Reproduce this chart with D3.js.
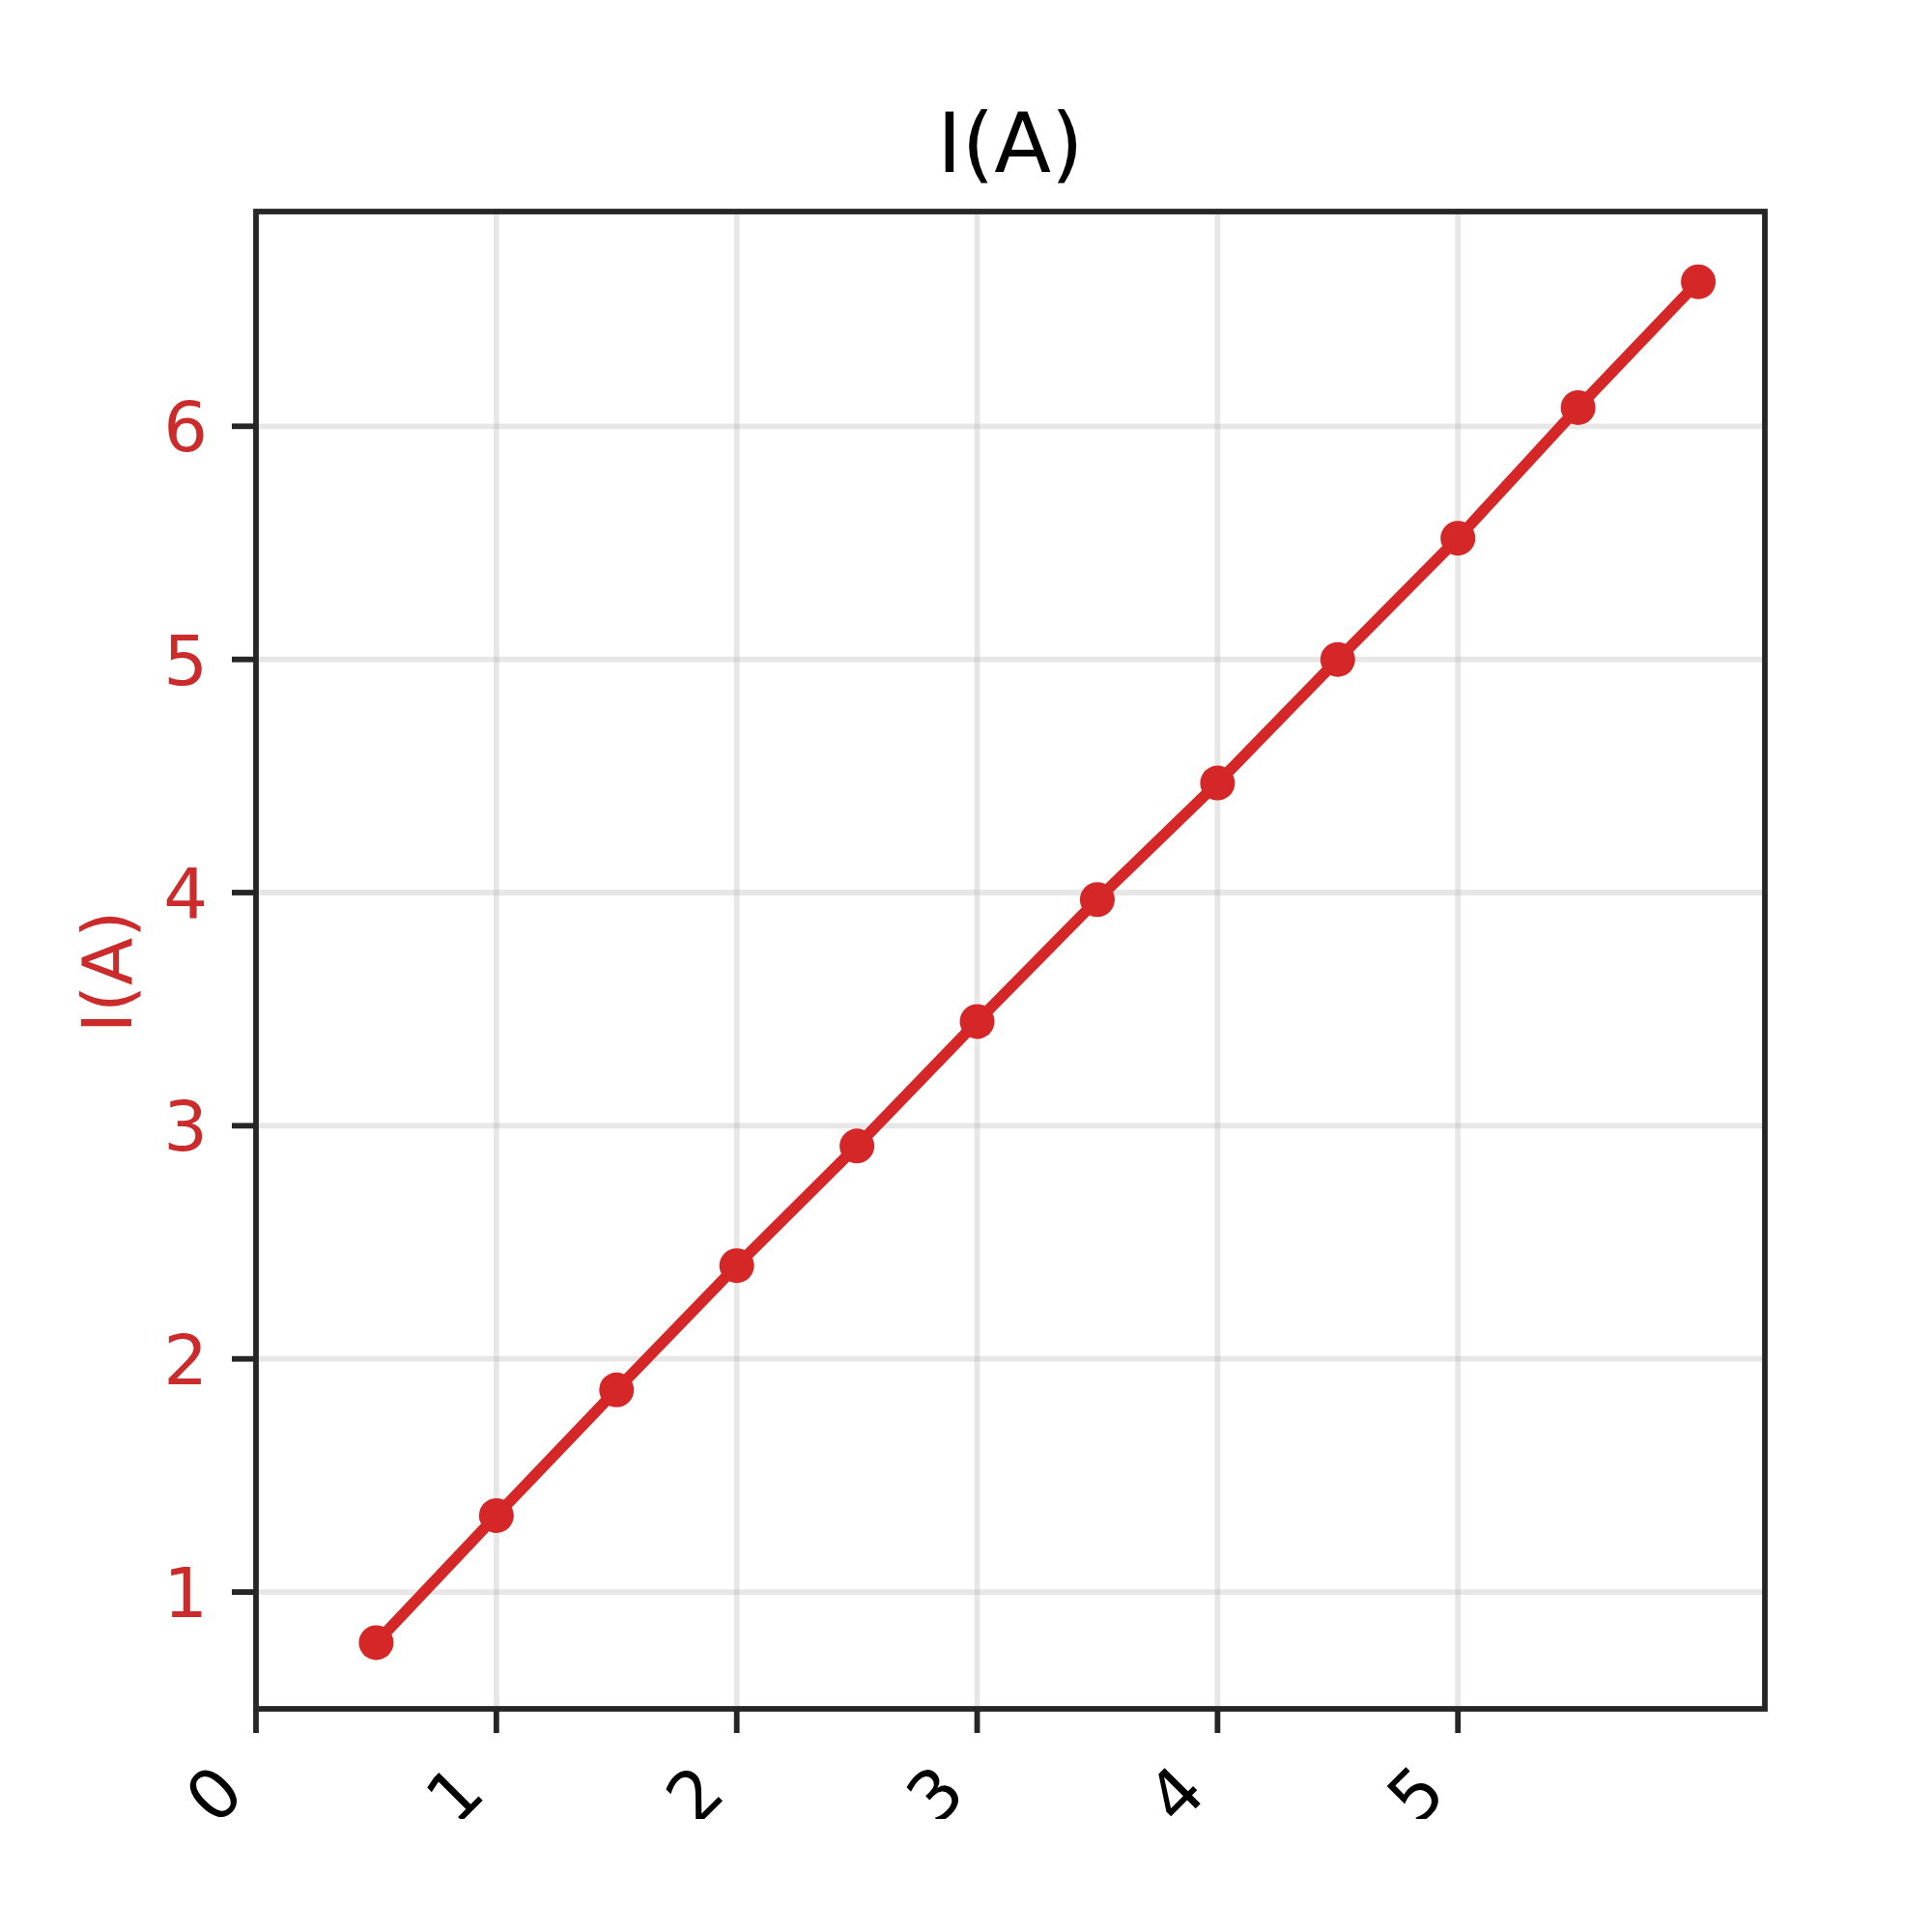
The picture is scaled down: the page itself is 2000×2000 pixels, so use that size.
<!DOCTYPE html>
<html>
<head>
<meta charset="utf-8">
<script src="https://cdn.jsdelivr.net/npm/d3@7"></script>
<style>
  html, body { margin: 0; padding: 0; background: #ffffff; }
  svg { display: block; }
  text { font-family: "DejaVu Sans", sans-serif; }
</style>
</head>
<body>
<script>
// ---- data ----
const xValues = [0.5, 1.0, 1.5, 2.0, 2.5, 3.0, 3.5, 4.0, 4.5, 5.0, 5.5, 6.0];
const currentValues = [0.783, 1.328, 1.867, 2.40, 2.913, 3.447, 3.97, 4.47, 5.0, 5.52, 6.08, 6.62];
const xTicks = [0, 1, 2, 3, 4, 5];
const yTicks = [1, 2, 3, 4, 5, 6];
const titleText = "I(A)";
const yLabelText = "I(A)";

(function () {
// ---- layout ----
const W = 2000, H = 2000;
const pL = 265, pR = 1827, pT = 219, pB = 1769;
const red = "#d62728";
const labelRed = "#cc2b2c";
const dark = "#262626";

const svg = d3.select("body").append("svg")
  .attr("width", W).attr("height", H);

svg.append("rect").attr("width", W).attr("height", H).attr("fill", "#ffffff");

const x = d3.scaleLinear().domain([0, 6.277]).range([pL, pR]);
const y = d3.scaleLinear().domain([0.499, 6.921]).range([pB, pT]);

// grid
const grid = svg.append("g");
grid.selectAll("line.gx").data(xTicks).enter().append("line")
  .attr("x1", d => x(d)).attr("x2", d => x(d))
  .attr("y1", pT).attr("y2", pB)
  .attr("stroke", "#b0b0b0").attr("stroke-opacity", 0.3).attr("stroke-width", 5.8);
grid.selectAll("line.gy").data(yTicks).enter().append("line")
  .attr("y1", d => y(d)).attr("y2", d => y(d))
  .attr("x1", pL).attr("x2", pR)
  .attr("stroke", "#b0b0b0").attr("stroke-opacity", 0.3).attr("stroke-width", 5.8);

// line + markers
const pts = xValues.map((v, i) => [v, currentValues[i]]);
svg.append("path")
  .datum(pts)
  .attr("fill", "none")
  .attr("stroke", red)
  .attr("stroke-width", 11.5)
  .attr("stroke-linejoin", "round")
  .attr("stroke-linecap", "butt")
  .attr("d", d3.line().x(d => x(d[0])).y(d => y(d[1])));

svg.selectAll("circle.pt").data(pts).enter().append("circle")
  .attr("cx", d => x(d[0])).attr("cy", d => y(d[1]))
  .attr("r", 18).attr("fill", red);

// spines
svg.append("rect")
  .attr("x", pL).attr("y", pT)
  .attr("width", pR - pL).attr("height", pB - pT)
  .attr("fill", "none").attr("stroke", dark).attr("stroke-width", 5.8);

// y axis ticks
const yAxisG = svg.append("g");
yAxisG.selectAll("line").data(yTicks).enter().append("line")
  .attr("x1", pL - 25).attr("x2", pL)
  .attr("y1", d => y(d)).attr("y2", d => y(d))
  .attr("stroke", dark).attr("stroke-width", 5.8);
yAxisG.selectAll("text").data(yTicks).enter().append("text")
  .attr("x", pL - 50).attr("y", d => y(d))
  .attr("dy", "0.36em")
  .attr("text-anchor", "end")
  .attr("font-size", 72)
  .attr("fill", labelRed)
  .text(d => d3.format("d")(d));

// x axis ticks
const xAxisG = svg.append("g");
xAxisG.selectAll("line").data(xTicks).enter().append("line")
  .attr("x1", d => x(d)).attr("x2", d => x(d))
  .attr("y1", pB).attr("y2", pB + 25)
  .attr("stroke", dark).attr("stroke-width", 5.8);

svg.append("defs").append("clipPath").attr("id", "xclip")
  .append("rect").attr("x", 0).attr("y", 0).attr("width", W).attr("height", 1883);

const xLab = svg.append("g").attr("clip-path", "url(#xclip)");
xLab.selectAll("text").data(xTicks).enter().append("text")
  .attr("transform", d => `translate(${x(d) - 44},${1857}) rotate(-45)`)
  .attr("text-anchor", "middle")
  .attr("dy", "0.36em")
  .attr("font-size", 72)
  .attr("fill", "#000000")
  .text(d => d3.format("d")(d));

// y label
svg.append("text")
  .attr("transform", `translate(136,${(pT + pB) / 2 + 12}) rotate(-90)`)
  .attr("text-anchor", "middle")
  .attr("font-size", 72)
  .attr("fill", labelRed)
  .text(yLabelText);

// title
svg.append("text")
  .attr("x", (pL + pR) / 2)
  .attr("y", 178)
  .attr("text-anchor", "middle")
  .attr("font-size", 86)
  .attr("fill", "#000000")
  .text(titleText);
})();
</script>
</body>
</html>
